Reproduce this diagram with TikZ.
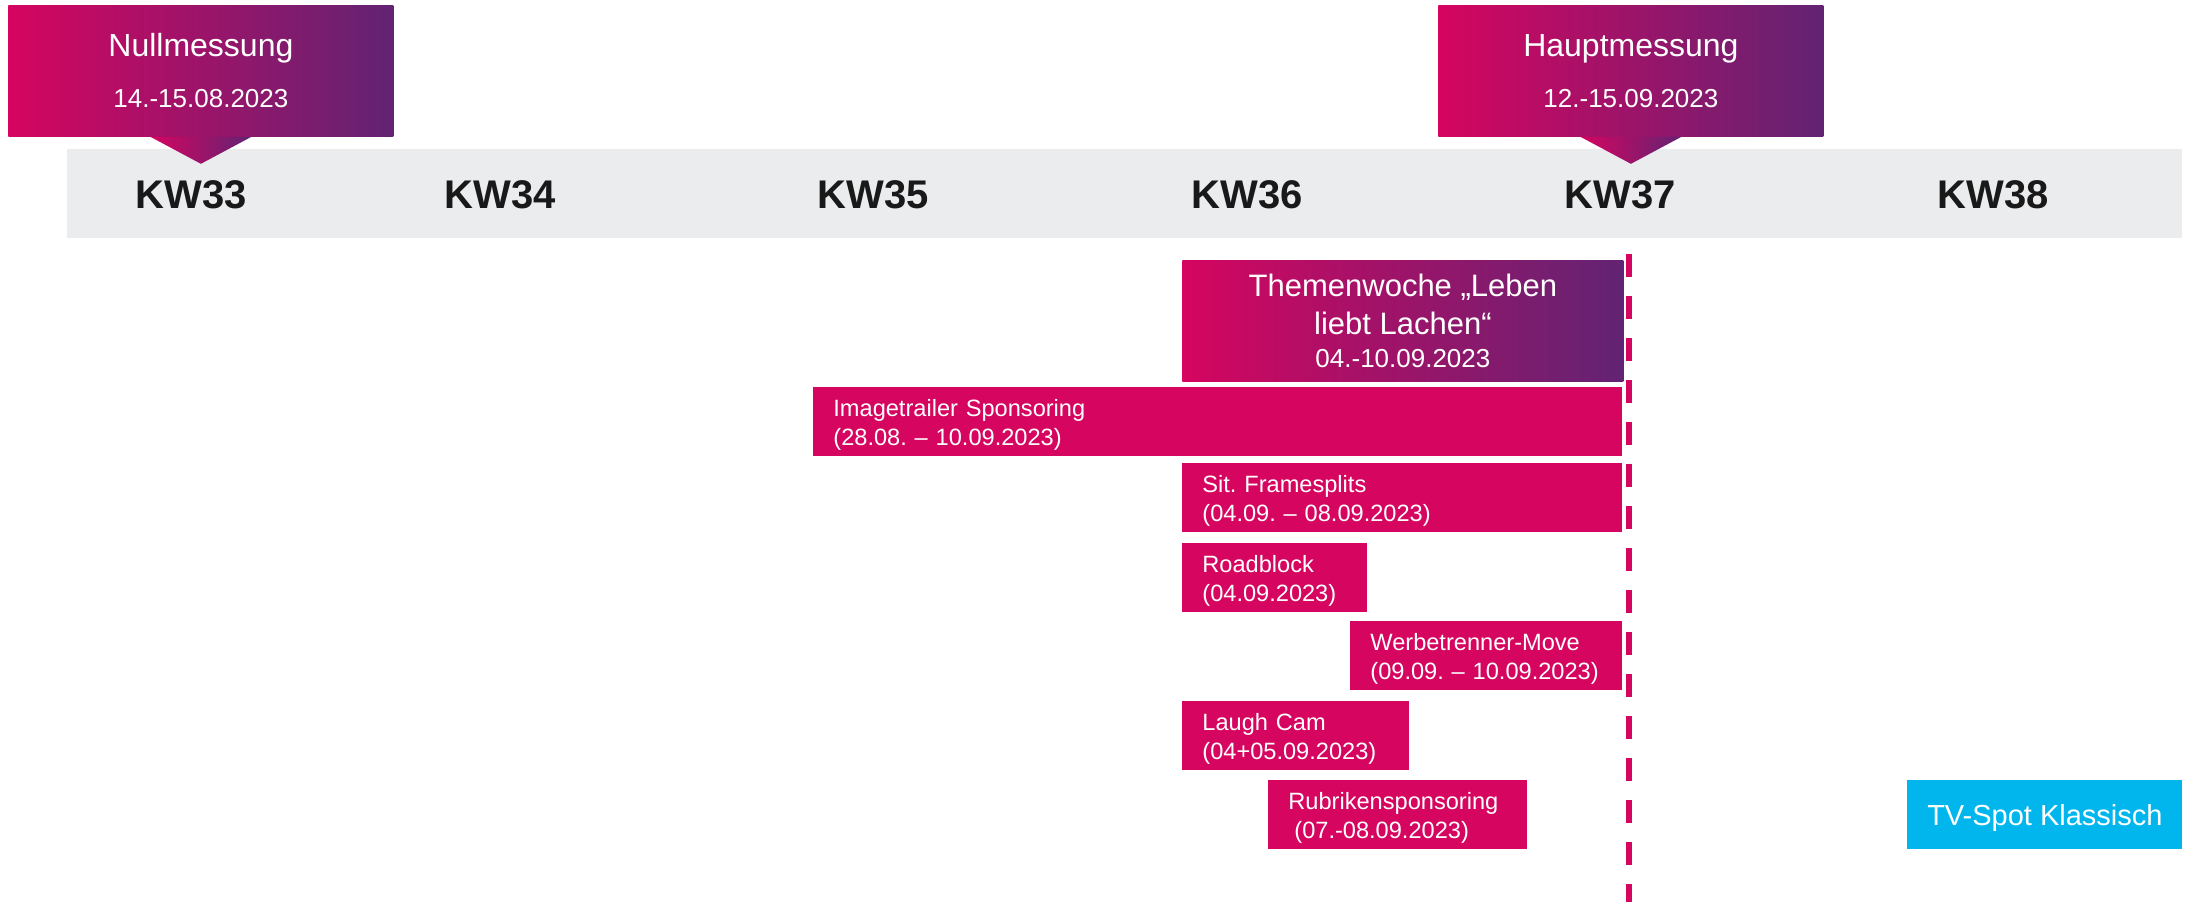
\documentclass[tikz,border=0pt]{standalone}
\usepackage{fontspec}
\setmainfont{Liberation Sans}
\frenchspacing
\usetikzlibrary{positioning,calc}
\definecolor{tmagenta}{RGB}{213,5,96}
\definecolor{tpurple}{RGB}{98,35,115}
\definecolor{kwgrey}{RGB}{235,236,238}
\definecolor{tvblue}{RGB}{0,182,237}

\begin{document}
\begin{tikzpicture}[
    x=0.5pt, y=-0.5pt,
    callout/.style={rectangle, anchor=north west, inner sep=0pt, left color=tmagenta, right color=tpurple, text=white, align=center},
    evt/.style={rectangle, anchor=north west, fill=tmagenta, text=white, inner xsep=10pt, inner ysep=0pt, minimum height=34.5pt, align=left, text height=8.6pt, text depth=14.5pt, font=\fontsize{11.8}{14.5}\selectfont},
    kw/.style={anchor=base, font=\fontsize{20}{24}\selectfont\bfseries, text=black!90},
    pointer/.style={left color=tmagenta, right color=tpurple}
]
    \useasboundingbox (0,0) rectangle (2189,902);

    % Kalenderwochen
    \node[fill=kwgrey, anchor=north west, inner sep=0pt, minimum width=1057.5pt, minimum height=44.5pt] (bar) at (67,149) {};
    \node[kw] (kw33) at (191,208) {KW33};
    \node[kw] (kw34) at (500,208) {KW34};
    \node[kw] (kw35) at (873,208) {KW35};
    \node[kw] (kw36) at (1247,208) {KW36};
    \node[kw] (kw37) at (1620,208) {KW37};
    \node[kw] (kw38) at (1993,208) {KW38};

    % Messungen
    \node[callout, minimum width=192.5pt, minimum height=65.5pt, font=\fontsize{16}{25.5}\selectfont] (null) at (8,5) {Nullmessung\\{\fontsize{13}{16}\selectfont 14.-15.08.2023}};
    \node[callout, minimum width=192.5pt, minimum height=65.5pt, font=\fontsize{16}{25.5}\selectfont] (haupt) at (1438,5) {Hauptmessung\\{\fontsize{13}{16}\selectfont 12.-15.09.2023}};
    \shade[pointer] ($(null.south)+(-50.5,0)$) -- ($(null.south)+(50.5,0)$) -- ($(null.south)+(0,27)$) -- cycle;
    \shade[pointer] ($(haupt.south)+(-50.5,0)$) -- ($(haupt.south)+(50.5,0)$) -- ($(haupt.south)+(0,27)$) -- cycle;

    % Themenwoche
    \node[callout, minimum width=220.5pt, minimum height=60.5pt, font=\fontsize{15.5}{19}\selectfont] (thema) at (1182,260) {Themenwoche „Leben\\liebt Lachen“\\[-2.5pt]{\fontsize{13}{16}\selectfont 04.-10.09.2023}};

    % Sonderwerbeformen
    \node[evt, text width=384.5pt] (trailer) at (813,387) {Imagetrailer Sponsoring\\(28.08.~–~10.09.2023)};
    \node[evt, text width=200pt] (frames) at (1182,463) {Sit. Framesplits\\(04.09.~–~08.09.2023)};
    \node[evt, text width=72.5pt] (road) at (1182,543) {Roadblock\\(04.09.2023)};
    \node[evt, text width=116pt] (move) at (1350,621) {Werbetrenner-Move\\(09.09.~–~10.09.2023)};
    \node[evt, text width=93.5pt] (cam) at (1182,701) {Laugh Cam\\(04+05.09.2023)};
    \node[evt, text width=109.5pt] (rubrik) at (1268,780) {Rubrikensponsoring\\\hspace*{3pt}(07.-08.09.2023)};
    \node[rectangle, anchor=north west, fill=tvblue, text=white, inner sep=0pt, minimum width=137.5pt, minimum height=34.5pt, text depth=0pt, font=\fontsize{14.5}{17}\selectfont] (tvspot) at (1907,780) {TV-Spot Klassisch};

    % Stichtag
    \coordinate (cut) at (1629,254);
    \coordinate (cutend) at (1629,902);
    \draw[tmagenta, line width=3pt, dash pattern=on 11.5pt off 9.5pt] (cut) -- (cutend);
\end{tikzpicture}
\end{document}
